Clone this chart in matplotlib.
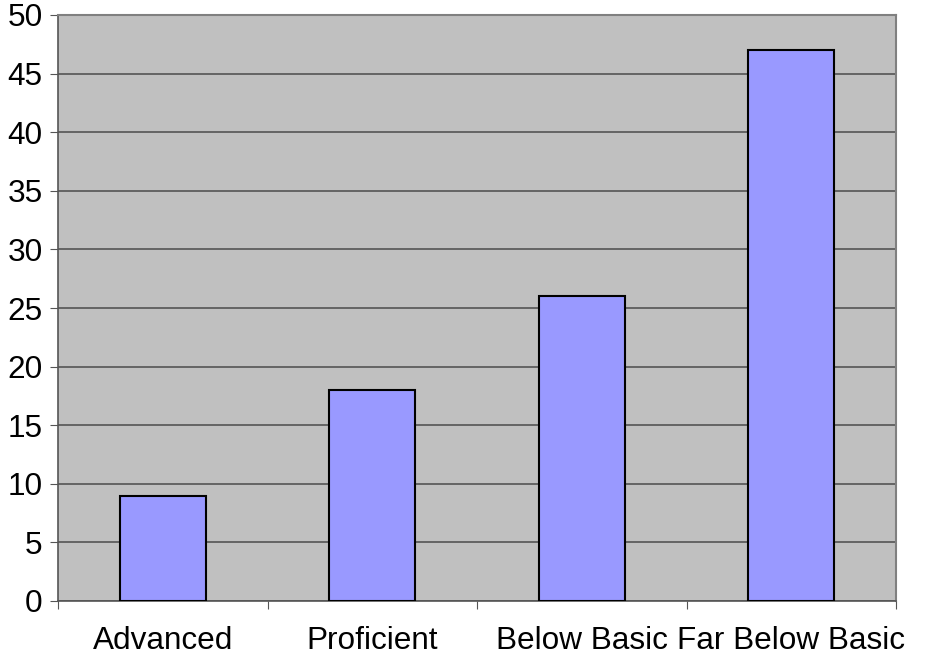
import matplotlib.pyplot as plt
import numpy as np

categories = ["Advanced", "Proficient", "Below Basic", "Far Below Basic"]
values = [9, 18, 26, 47]
y_ticks = list(range(0, 51, 5))

plt.rcParams["font.family"] = ["Liberation Sans", "DejaVu Sans"]

fig = plt.figure(figsize=(9.34, 6.57), dpi=100)
ax = fig.add_axes([58 / 934, 56 / 657, 838 / 934, 586 / 657])
ax.set_facecolor("#C0C0C0")

x = np.arange(len(categories))
ax.bar(x, values, width=0.41, color="#9999FF", edgecolor="black", linewidth=1.5, zorder=3)

ax.set_xlim(-0.5, len(categories) - 0.5)
ax.set_ylim(0, 50)
ax.set_yticks(y_ticks)
ax.yaxis.grid(True, color="#555555", linewidth=1.2, zorder=1)
ax.tick_params(axis="y", labelsize=22.7, length=6, color="#555555", pad=5)

ax.set_xticks(np.arange(len(categories) + 1) - 0.5)
ax.set_xticklabels([])
ax.set_xticks(x, minor=True)
ax.set_xticklabels(categories, minor=True)
ax.tick_params(axis="x", which="major", length=6, color="#555555")
ax.tick_params(axis="x", which="minor", length=0, labelsize=22.7, pad=18)

for side in ["top", "right"]:
    ax.spines[side].set_color("#808080")
    ax.spines[side].set_linewidth(1.5)
for side in ["left", "bottom"]:
    ax.spines[side].set_color("#555555")
    ax.spines[side].set_linewidth(1.2)

fig.savefig("out.png", dpi=100)
